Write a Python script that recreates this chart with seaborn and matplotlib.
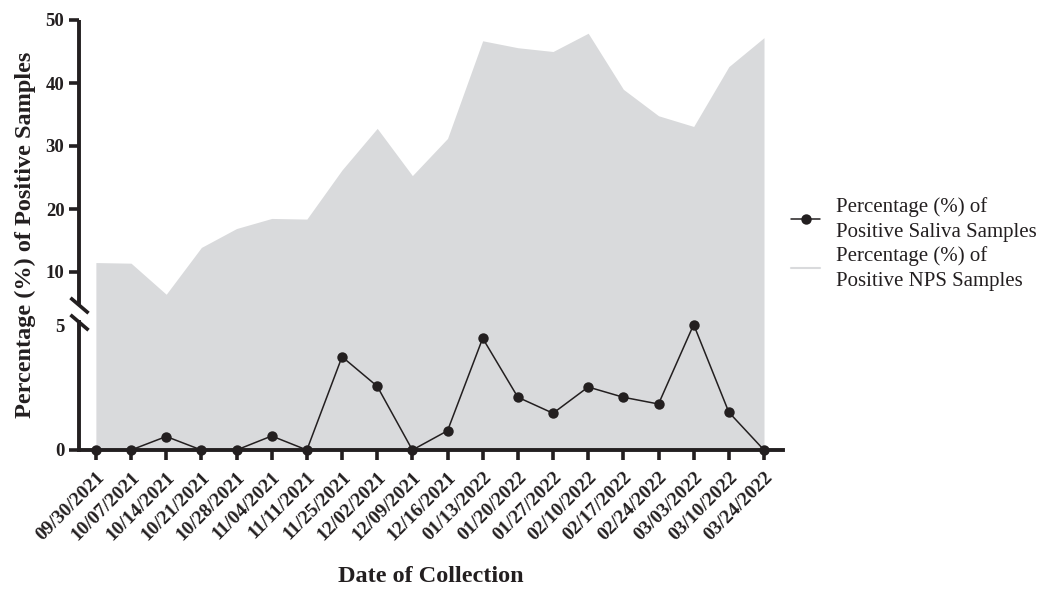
import numpy as np
import pandas as pd
import matplotlib
matplotlib.use("Agg")
import matplotlib.pyplot as plt
from matplotlib.lines import Line2D
import seaborn as sns

dates = ["09/30/2021", "10/07/2021", "10/14/2021", "10/21/2021", "10/28/2021",
         "11/04/2021", "11/11/2021", "11/25/2021", "12/02/2021", "12/09/2021",
         "12/16/2021", "01/13/2022", "01/20/2022", "01/27/2022", "02/10/2022",
         "02/17/2022", "02/24/2022", "03/03/2022", "03/10/2022", "03/24/2022"]
saliva = [0, 0, 0.54, 0, 0, 0.56, 0, 3.73, 2.55, 0,
          0.77, 4.47, 2.11, 1.47, 2.52, 2.11, 1.84, 5.04, 1.51, 0]
nps = [11.5, 11.4, 7.9, 13.9, 16.9, 18.5, 18.4, 26.2, 32.8, 25.3,
       31.2, 46.7, 45.6, 45.0, 47.9, 39.0, 34.8, 33.1, 42.6, 47.2]
yticks = [0, 5, 10, 20, 30, 40, 50]

sns.set_style("ticks")
plt.rcParams["font.family"] = ["Liberation Serif", "DejaVu Serif"]

INK = "#231f20"
FILL = "#d9dadc"

# broken-axis style piecewise scale
data_pts = [0, 5, 10, 50]
disp_pts = [0, 125, 178, 430]
def fwd(y):
    return np.interp(y, data_pts, disp_pts)
def inv(y):
    return np.interp(y, disp_pts, data_pts)

fig = plt.figure(figsize=(10.37, 5.90), dpi=100)
ax = fig.add_axes([79/1037, 1-450/590, (783-79)/1037, (450-20)/590])
ax.set_yscale("function", functions=(fwd, inv))

df = pd.DataFrame({"idx": np.arange(len(dates)), "saliva": saliva, "nps": nps})

ax.fill_between(df["idx"], 0, df["nps"], color=FILL, linewidth=0, zorder=1)
sns.lineplot(data=df, x="idx", y="saliva", ax=ax, color=INK, marker="o",
             markersize=7.5, markeredgewidth=0, linewidth=1.1, clip_on=False,
             zorder=5, legend=False)

ax.set_xlim(-0.48, 19.54)
ax.set_ylim(0, 50)

ax.set_xticks(np.arange(len(dates)))
ax.set_xticklabels(dates, rotation=45, ha="right", rotation_mode="anchor",
                   fontsize=14, fontweight="bold", color=INK)
ax.set_yticks(yticks)
ax.set_yticklabels([str(t) for t in yticks], fontsize=13.5, fontweight="bold", color=INK)
ax.tick_params(axis="both", direction="out", length=7.5, width=2.6, color=INK, pad=3)
ax.tick_params(axis="x", pad=6)
ax.yaxis.get_major_ticks()[1].tick1line.set_visible(False)

for s in ["top", "right", "left"]:
    ax.spines[s].set_visible(False)
ax.spines["bottom"].set_linewidth(2.8)
ax.spines["bottom"].set_color(INK)

# left axis with break
tr = ax.get_yaxis_transform()
ax.plot([0, 0], [0, 5.25], transform=tr, color=INK, lw=2.8, clip_on=False,
        solid_capstyle="projecting", zorder=6)
ax.plot([0, 0], [6.9, 50], transform=tr, color=INK, lw=2.8, clip_on=False,
        solid_capstyle="butt", zorder=6)
slash = [(-1, 0.85), (1, -0.85)]
for yb in [5.25, 6.9]:
    ax.plot([0], [yb], transform=tr, marker=slash, markersize=13,
            markeredgewidth=2.6, color=INK, clip_on=False, zorder=7)

ax.set_xlabel("Date of Collection", fontsize=17.5, fontweight="bold", color=INK,
              labelpad=16)
ax.set_ylabel("Percentage (%) of Positive Samples", fontsize=17.5, fontweight="bold",
              color=INK, labelpad=7)

handles = [Line2D([], [], color=INK, marker="o", markersize=7.5, markeredgewidth=0, lw=1.1),
           Line2D([], [], color=FILL, lw=1.5)]
labels = ["Percentage (%) of\nPositive Saliva Samples",
          "Percentage (%) of\nPositive NPS Samples"]
leg = fig.legend(handles, labels, loc="center left", bbox_to_anchor=(791/1037, 1-244/590),
                 frameon=False, fontsize=15, handlelength=1.4, handletextpad=0.75,
                 labelspacing=0.2, borderpad=0, borderaxespad=0, labelcolor=INK)
for t in leg.get_texts():
    t.set_linespacing(1.45)

fig.savefig("out.png", dpi=100)
